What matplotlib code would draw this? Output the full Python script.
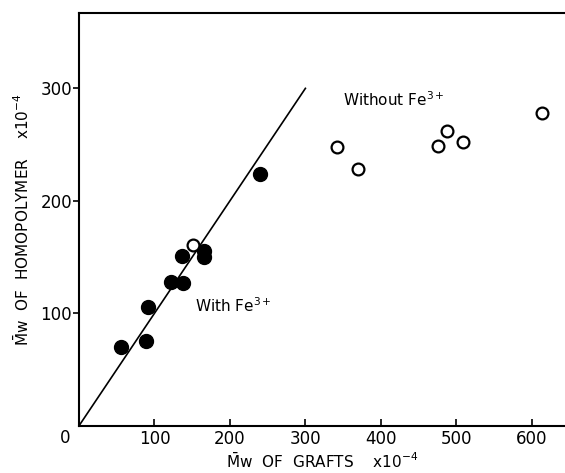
import matplotlib.pyplot as plt
import numpy as np

# with Fe3+ (filled)
with_x = [55, 89, 92, 122, 138, 136, 166, 166, 240]
with_y = [70, 75, 106, 128, 127, 151, 155, 150, 224]
# open circles
without_x = [151, 342, 370, 476, 488, 509, 613]
without_y = [161, 248, 228, 249, 262, 252, 278]

line_x = [0, 300]
line_y = [0, 300]

xticks = [100, 200, 300, 400, 500, 600]
yticks = [100, 200, 300]

plt.rcParams['font.family'] = 'DejaVu Sans'
fig = plt.figure(figsize=(5.65, 4.73), dpi=100)
ax = fig.add_axes([79/565, 1-425.8/473, 1-79/565, (425.8-13)/473])

ax.plot(line_x, line_y, color='black', lw=1.2)
ax.plot(with_x, with_y, 'o', color='black', ms=10)
ax.plot(without_x, without_y, 'o', mfc='white', mec='black', mew=1.6, ms=8.5)

ax.set_xlim(0, 644)
ax.set_ylim(0, 367)
ax.spines['right'].set_visible(False)
for s in ['left', 'top', 'bottom']:
    ax.spines[s].set_linewidth(1.5)

ax.set_xticks(xticks)
ax.set_xticklabels([str(v) for v in xticks])
ax.set_yticks(yticks)
ax.set_yticklabels([str(v) for v in yticks])
ax.tick_params(axis='x', direction='in', length=5, width=1.2, labelsize=12, pad=3)
ax.tick_params(axis='y', direction='out', length=4, width=1.2, labelsize=12, pad=1)
ax.text(-14/0.755, -3/1.125, '0', fontsize=12, ha='center', va='top')

ax.text(350, 290, 'Without Fe$^{3+}$', fontsize=11, va='center')
ax.text(154, 107, 'With Fe$^{3+}$', fontsize=11, va='center')

ax.set_xlabel(r'$\mathregular{\bar{M}w\ \ OF\ \ GRAFTS\ \ \ \ x10^{-4}}$', fontsize=11, labelpad=3)
ax.set_ylabel(r'$\mathregular{\bar{M}w\ \ OF\ \ HOMOPOLYMER\ \ \ \ x10^{-4}}$', fontsize=11, labelpad=6)

fig.savefig('out.png', dpi=100)
